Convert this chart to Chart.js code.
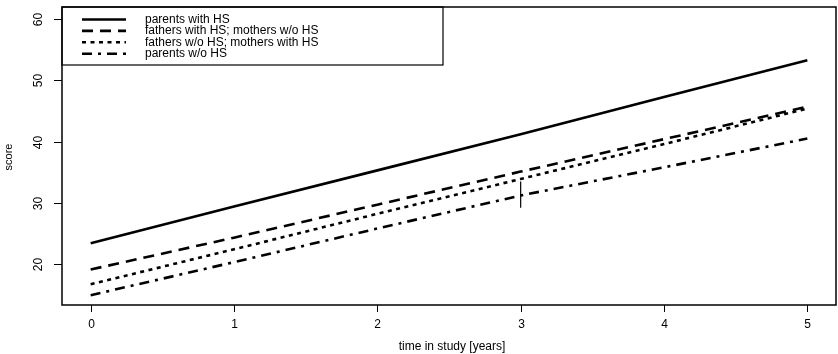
<!DOCTYPE html>
<html>
<head>
<meta charset="utf-8">
<script src="https://cdn.jsdelivr.net/npm/chart.js@4.4.0/dist/chart.umd.min.js"></script>
<style>
  html, body { margin: 0; padding: 0; background: #fff; }
  #wrap { width: 838px; height: 354px; }
</style>
</head>
<body>
<div id="wrap"><canvas id="scoreChart" width="838" height="354"></canvas></div>
<script>
// values, one per year
const years = [0, 1, 2, 3, 4, 5];
const parentsWithHS = [23.4, 29.4, 35.3, 41.2, 47.3, 53.3];
const fathersOnlyHS = [19.1, 24.3, 29.7, 35.1, 40.4, 45.7];
const mothersOnlyHS = [16.7, 22.4, 28.2, 33.9, 39.6, 45.4];
const parentsNoHS = [14.9, 20.3, 25.8, 31.2, 35.8, 40.5];

const seriesNames = [
  "parents with HS",
  "fathers with HS; mothers w/o HS",
  "fathers w/o HS; mothers with HS",
  "parents w/o HS"
];
const dashes = [[], [11, 7], [4, 4.5], [10, 6, 3, 6]];

const xTicks = [0, 1, 2, 3, 4, 5];
const yTicks = [20, 30, 40, 50, 60];

// short vertical mark at year 3
const markYear = 3;
const markRange = [29.2, 33.5];

const FONT = '"Liberation Sans", Arial, Helvetica, sans-serif';

function toPoints(vals) {
  return years.map((x, i) => ({ x: x, y: vals[i] }));
}

function drawLine(ctx, x1, y1, x2, y2) {
  ctx.beginPath();
  ctx.moveTo(x1, y1);
  ctx.lineTo(x2, y2);
  ctx.stroke();
}

// R-style box, ticks, rotated y labels, titles and legend
const rAxesPlugin = {
  id: 'rAxes',
  afterDraw(chart) {
    const ctx = chart.ctx;
    const { left, right, top, bottom } = chart.chartArea;
    const xs = chart.scales.x;
    const ys = chart.scales.y;

    ctx.save();
    ctx.strokeStyle = '#000';
    ctx.fillStyle = '#000';
    ctx.lineWidth = 1.5;
    ctx.setLineDash([]);
    ctx.strokeRect(left, top, right - left, bottom - top);

    ctx.lineWidth = 1;
    ctx.font = '12px ' + FONT;
    ctx.textAlign = 'center';
    ctx.textBaseline = 'middle';

    xTicks.forEach(v => {
      const px = Math.round(xs.getPixelForValue(v)) + 0.5;
      drawLine(ctx, px, bottom, px, bottom + 7);
      ctx.fillText(String(v), px, bottom + 20);
    });

    yTicks.forEach(v => {
      const py = Math.round(ys.getPixelForValue(v)) + 0.5;
      drawLine(ctx, left - 8, py, left, py);
      ctx.save();
      ctx.translate(left - 23, py);
      ctx.rotate(-Math.PI / 2);
      ctx.fillText(String(v), 0, 0);
      ctx.restore();
    });

    ctx.font = '12px ' + FONT;
    ctx.fillText('time in study [years]', (left + right) / 2 + 3, bottom + 42);
    ctx.font = '11px ' + FONT;
    ctx.save();
    ctx.translate(9, (top + bottom) / 2 + 1);
    ctx.rotate(-Math.PI / 2);
    ctx.fillText('score', 0, 0);
    ctx.restore();

    // legend box
    const lx = left, ly = top, lw = 381, lh = 58;
    ctx.fillStyle = '#fff';
    ctx.fillRect(lx + 1, ly + 1, lw - 1, lh - 1);
    ctx.lineWidth = 1.2;
    ctx.strokeRect(lx, ly, lw, lh);

    ctx.font = '12px ' + FONT;
    ctx.fillStyle = '#000';
    ctx.textAlign = 'left';
    seriesNames.forEach((name, i) => {
      const ry = ly + 12.5 + i * 11.4;
      ctx.lineWidth = 2.6;
      ctx.setLineDash(dashes[i]);
      drawLine(ctx, lx + 20, ry, lx + 64, ry);
      ctx.setLineDash([]);
      ctx.fillText(name, lx + 83, ry);
    });
    ctx.restore();
  }
};

const sets = [parentsWithHS, fathersOnlyHS, mothersOnlyHS, parentsNoHS].map((vals, i) => ({
  label: seriesNames[i],
  data: toPoints(vals),
  borderColor: '#000',
  borderWidth: 2.6,
  borderDash: dashes[i],
  borderCapStyle: 'butt',
  pointRadius: 0,
  tension: 0,
  fill: false
}));

sets.push({
  label: 'mark',
  data: [{ x: markYear, y: markRange[0] }, { x: markYear, y: markRange[1] }],
  borderColor: '#000',
  borderWidth: 1.2,
  pointRadius: 0,
  fill: false
});

new Chart(document.getElementById('scoreChart').getContext('2d'), {
  type: 'line',
  data: { datasets: sets },
  options: {
    responsive: false,
    devicePixelRatio: 1,
    animation: false,
    layout: { padding: { left: 62, right: 2, top: 7, bottom: 49 } },
    plugins: { legend: { display: false }, tooltip: { enabled: false } },
    scales: {
      x: { type: 'linear', min: -0.2, max: 5.2, display: false },
      y: { type: 'linear', min: 13.3, max: 62, display: false }
    }
  },
  plugins: [rAxesPlugin]
});
</script>
</body>
</html>
